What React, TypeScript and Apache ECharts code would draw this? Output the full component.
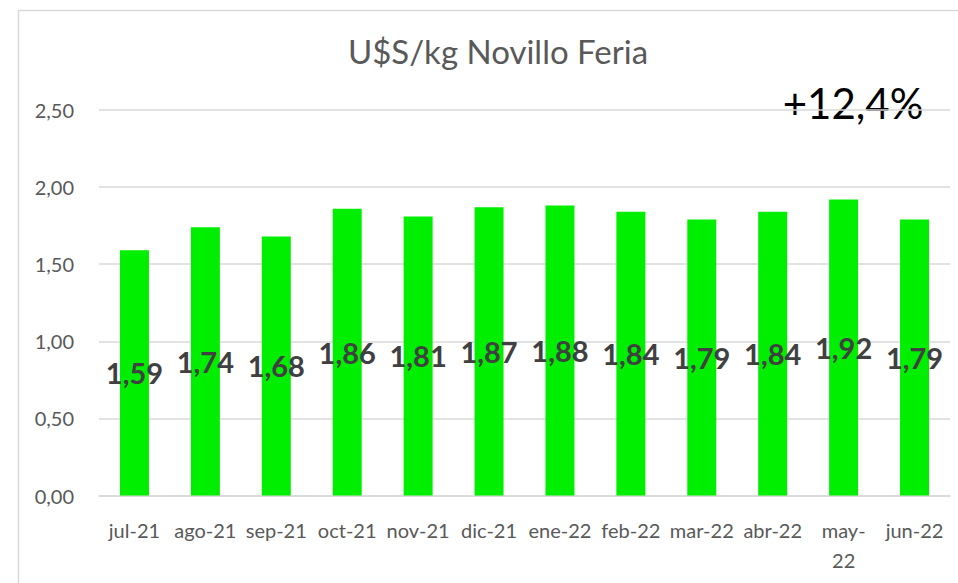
import React, { useEffect, useRef } from "react";
import * as echarts from "echarts";

const categories = ["jul-21", "ago-21", "sep-21", "oct-21", "nov-21", "dic-21", "ene-22", "feb-22", "mar-22", "abr-22", "may-22", "jun-22"];
const values = [1.59, 1.74, 1.68, 1.86, 1.81, 1.87, 1.88, 1.84, 1.79, 1.84, 1.92, 1.79];
const titleText = "U$S/kg Novillo Feria";
const changeText = "+12,4%";

const fmt = (v: number) => v.toFixed(2).replace(".", ",");
const FONT = "Lato, 'Open Sans', sans-serif";

export default function App() {
  const ref = useRef<HTMLDivElement>(null);
  useEffect(() => {
    if (!ref.current) return;
    const chart = echarts.init(ref.current, null, { renderer: "svg" });
    chart.setOption({
      animation: false,
      backgroundColor: "#ffffff",
      graphic: [
        {
          type: "rect",
          shape: { x: 18.5, y: 10.5, width: 1000, height: 700 },
          style: { fill: "none", stroke: "#d9d9d9", lineWidth: 1.5 },
          silent: true,
          z: -1,
        },
        {
          type: "text",
          style: {
            text: titleText,
            x: 498,
            y: 51,
            align: "center",
            verticalAlign: "middle",
            fill: "#595959",
            font: "33px " + FONT,
          },
        },
        {
          type: "text",
          style: {
            text: changeText,
            x: 853,
            y: 103,
            align: "center",
            verticalAlign: "middle",
            fill: "#000000",
            font: "42px " + FONT,
          },
        },
      ],
      grid: { left: 99, right: 8, top: 110, bottom: 87.5, containLabel: false },
      xAxis: {
        type: "category",
        data: categories,
        axisTick: { show: false },
        axisLine: { lineStyle: { color: "#d9d9d9", width: 1.5 } },
        axisLabel: {
          interval: 0,
          margin: 19,
          color: "#595959",
          fontSize: 20,
          fontFamily: FONT,
          lineHeight: 30,
          formatter: (v: string) => (v === "may-22" ? "may-\n22" : v),
        },
      },
      yAxis: {
        type: "value",
        min: 0,
        max: 2.5,
        interval: 0.5,
        axisLine: { show: false },
        axisTick: { show: false },
        splitLine: { lineStyle: { color: "#d9d9d9", width: 1.5 } },
        axisLabel: {
          margin: 25,
          color: "#595959",
          fontSize: 20,
          fontFamily: FONT,
          formatter: (v: number) => fmt(v),
        },
      },
      series: [
        {
          type: "bar",
          data: values,
          barWidth: 29,
          itemStyle: { color: "#00ee00" },
          label: {
            show: true,
            position: "inside",
            color: "#404040",
            fontSize: 29,
            fontWeight: "bold",
            fontFamily: FONT,
            formatter: (p: any) => fmt(p.value),
          },
        },
      ],
    });
    return () => chart.dispose();
  }, []);
  return <div ref={ref} style={{ position: "absolute", left: 0, top: 0, width: 958, height: 583 }} />;
}
